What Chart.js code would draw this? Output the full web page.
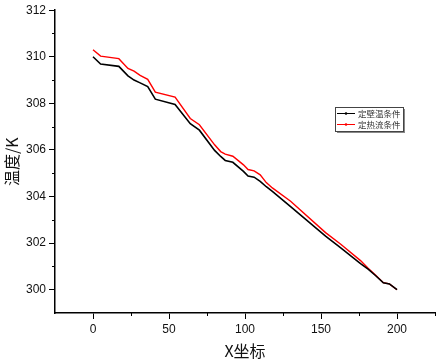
<!DOCTYPE html>
<html>
<head>
<meta charset="utf-8">
<script src="https://cdn.jsdelivr.net/npm/chart.js@4.4.1/dist/chart.umd.min.js"></script>
<style>
  body { margin: 0; background: #fff; }
  canvas { display: block; }
</style>
</head>
<body>
<canvas id="chart_1" width="437" height="361"></canvas>
<script>
// data
var xCoords = [0, 5, 17, 23, 27, 31, 36, 41, 54, 64, 70, 80, 84, 87, 92, 99, 102, 106, 110, 114, 118, 130, 153, 163, 176, 181, 186, 191, 195, 200];
var wallTemp = [310.0, 309.69, 309.59, 309.18, 309.0, 308.88, 308.72, 308.18, 307.95, 307.13, 306.85, 305.98, 305.72, 305.55, 305.47, 305.08, 304.88, 304.83, 304.65, 304.42, 304.22, 303.57, 302.3, 301.8, 301.12, 300.88, 300.6, 300.3, 300.25, 300.0];
var heatFlux = [310.3, 310.03, 309.92, 309.5, 309.38, 309.2, 309.03, 308.48, 308.27, 307.35, 307.08, 306.22, 305.93, 305.82, 305.73, 305.36, 305.16, 305.1, 304.93, 304.6, 304.37, 303.8, 302.45, 301.95, 301.25, 300.92, 300.62, 300.3, 300.25, 300.0];
var seriesNames = ['定壁温条件', '定热流条件'];

var xTicks = [0, 50, 100, 150, 200];
var xMinor = [25, 75, 125, 175, 225];
var yTicks = [300, 302, 304, 306, 308, 310, 312];
var yMinor = [301, 303, 305, 307, 309, 311];

function toPoints(ys) {
    return xCoords.map(function(x, i) { return { x: x, y: ys[i] }; });
}

// minor ticks + Origin style legend box
var extras = {
    id: 'extras',
    afterDraw: function(chart) {
        var ctx = chart.ctx;
        var xs = chart.scales.x, ys = chart.scales.y;
        var area = chart.chartArea;
        ctx.save();
        ctx.strokeStyle = '#000';
        ctx.lineWidth = 1;
        xMinor.forEach(function(v) {
            var px = Math.round(xs.getPixelForValue(v)) + 0.5;
            ctx.beginPath();
            ctx.moveTo(px, area.bottom);
            ctx.lineTo(px, area.bottom + 3);
            ctx.stroke();
        });
        yMinor.forEach(function(v) {
            var py = Math.round(ys.getPixelForValue(v)) + 0.5;
            ctx.beginPath();
            ctx.moveTo(area.left, py);
            ctx.lineTo(area.left - 3, py);
            ctx.stroke();
        });

        // legend
        var bx = 335, by = 107, bw = 68, bh = 24;
        ctx.fillStyle = '#888';
        ctx.fillRect(bx + 2, by + 2, bw, bh);
        ctx.fillStyle = '#fff';
        ctx.fillRect(bx, by, bw, bh);
        ctx.strokeStyle = '#444';
        ctx.lineWidth = 1;
        ctx.strokeRect(bx + 0.5, by + 0.5, bw, bh);
        chart.data.datasets.forEach(function(ds, i) {
            var cy = by + 6.5 + i * 11;
            ctx.strokeStyle = ds.borderColor;
            ctx.lineWidth = 1;
            ctx.beginPath();
            ctx.moveTo(bx + 2, cy);
            ctx.lineTo(bx + 20, cy);
            ctx.stroke();
            ctx.fillStyle = ds.borderColor;
            ctx.beginPath();
            ctx.arc(bx + 11, cy, 1.3, 0, Math.PI * 2);
            ctx.fill();
            ctx.fillStyle = '#333';
            ctx.font = '8.5px "Noto Sans CJK SC"';
            ctx.textBaseline = 'middle';
            ctx.fillText(ds.label, bx + 23, cy);
        });
        ctx.restore();
    }
};

var config_1 = {
    type: 'line',
    data: {
        datasets: [{
            label: seriesNames[0],
            data: toPoints(wallTemp),
            borderColor: '#000000',
            borderWidth: 1.6,
            pointRadius: 0,
            tension: 0
        }, {
            label: seriesNames[1],
            data: toPoints(heatFlux),
            borderColor: '#ff0000',
            borderWidth: 1.4,
            pointRadius: 0,
            tension: 0
        }]
    },
    options: {
        responsive: false,
        animation: false,
        layout: { padding: { top: 5, right: 2, left: 0, bottom: 0 } },
        plugins: {
            legend: { display: false },
            tooltip: { enabled: false }
        },
        scales: {
            x: {
                type: 'linear',
                min: -25,
                max: 225,
                afterBuildTicks: function(scale) {
                    scale.ticks = xTicks.map(function(v) { return { value: v }; });
                },
                afterFit: function(scale) { scale.height = 48; },
                border: { color: '#000', width: 1.5 },
                grid: { drawOnChartArea: false, tickLength: 6, color: '#000', tickWidth: 1 },
                ticks: {
                    autoSkip: false,
                    maxRotation: 0,
                    color: '#111',
                    padding: 3,
                    font: { family: 'Liberation Sans', size: 12 }
                },
                title: {
                    display: true,
                    text: 'X坐标',
                    color: '#111',
                    padding: { top: 0, bottom: 0 },
                    font: { family: 'Noto Sans CJK SC', size: 16 }
                }
            },
            y: {
                min: 299,
                max: 312,
                afterBuildTicks: function(scale) {
                    scale.ticks = yTicks.map(function(v) { return { value: v }; });
                },
                afterFit: function(scale) { scale.width = 55; },
                border: { color: '#000', width: 1.5 },
                grid: { drawOnChartArea: false, tickLength: 6, color: '#000', tickWidth: 1 },
                ticks: {
                    autoSkip: false,
                    color: '#111',
                    padding: 3,
                    font: { family: 'Liberation Sans', size: 12 }
                },
                title: {
                    display: true,
                    text: '温度/K',
                    color: '#111',
                    padding: { top: 2, bottom: 0 },
                    font: { family: 'Noto Sans CJK SC', size: 16 }
                }
            }
        }
    },
    plugins: [extras]
};

var chart_1 = new Chart(document.getElementById('chart_1'), config_1);
</script>
</body>
</html>
